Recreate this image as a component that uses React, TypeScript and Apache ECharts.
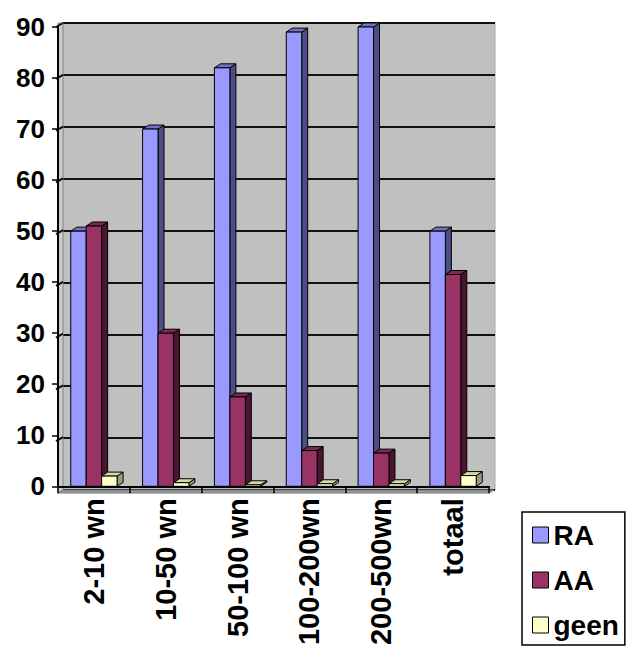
import React, { useEffect, useRef } from "react";
import * as echarts from "echarts";

// Company size classes and the share (%) per answer
const categories = ["2-10 wn", "10-50 wn", "50-100 wn", "100-200wn", "200-500wn", "totaal"];
const seriesNames = ["RA", "AA", "geen"];
const raValues = [50, 70, 82, 89, 90, 50];
const aaValues = [51, 30, 17.5, 7, 6.5, 41.5];
const geenValues = [2, 0.7, 0.3, 0.5, 0.5, 2.1];
const yMin = 0;
const yMax = 90;
const yStep = 10;

// Face colours per series: front, top, side
const faceColors = [
  { front: "#9999FF", top: "#7373C6", side: "#4D4D86" },
  { front: "#993366", top: "#7A2950", side: "#4A1530" },
  { front: "#FFFFCC", top: "#D8D8A6", side: "#9C9C7A" },
];

const W = 632;
const H = 648;
const FONT = '"Liberation Sans", Arial, Helvetica, sans-serif';

// front plane of the plot and depth of the 3D extrusion
const GRID = { left: 58, top: 27, right: 143, bottom: 155 };
const DX = 6;
const DY = 4;
const WALL_DX = 5;
const WALL_DY = 4;

function makeRender(idx: number) {
  const c = faceColors[idx];
  return (params: any, api: any) => {
    const cat = api.value(0);
    const val = api.value(1);
    const base = api.coord([cat, 0]);
    const top = api.coord([cat, val]);
    const band = api.size([1, 0])[0];
    const w = band * 0.215;
    const x0 = base[0] - 1.5 * w + idx * w;
    const x1 = x0 + w;
    const yt = top[1];
    const yb = base[1];
    const stroke = { stroke: "#000", lineWidth: 1 };
    return {
      type: "group",
      children: [
        {
          type: "polygon",
          shape: { points: [[x1, yt], [x1 + DX, yt - DY], [x1 + DX, yb - DY], [x1, yb]] },
          style: { fill: c.side, ...stroke },
        },
        {
          type: "polygon",
          shape: { points: [[x0, yt], [x0 + DX, yt - DY], [x1 + DX, yt - DY], [x1, yt]] },
          style: { fill: c.top, ...stroke },
        },
        {
          type: "rect",
          shape: { x: x0, y: yt, width: w, height: yb - yt },
          style: { fill: c.front, ...stroke },
        },
      ],
    };
  };
}

export default function App() {
  const ref = useRef<HTMLDivElement>(null);

  useEffect(() => {
    if (!ref.current) return;
    const chart = echarts.init(ref.current, null, { renderer: "svg" });

    const fl = GRID.left;
    const ft = GRID.top;
    const fr = W - GRID.right;
    const fb = H - GRID.bottom;
    const plotH = fb - ft;

    // side wall and floor joining the front plane to the back wall
    const wallGraphics: any[] = [
      {
        type: "polygon",
        z: 1,
        shape: { points: [[fl, ft - WALL_DY], [fl + WALL_DX, ft - WALL_DY], [fl + WALL_DX, fb - WALL_DY + 1], [fl, fb]] },
        style: { fill: "#CACACA", stroke: "#8A8A8A", lineWidth: 1 },
      },
      {
        type: "polygon",
        z: 1,
        shape: { points: [[fl, fb], [fl + WALL_DX, fb - WALL_DY + 1], [fr + WALL_DX, fb - WALL_DY + 1], [fr, fb]] },
        style: { fill: "#9A9A9A", stroke: "#7A7A7A", lineWidth: 1 },
      },
    ];
    for (let v = yMin + yStep; v <= yMax; v += yStep) {
      const y = fb - ((v - yMin) / (yMax - yMin)) * plotH;
      wallGraphics.push({
        type: "line",
        z: 1,
        shape: { x1: fl - 2, y1: y, x2: fl + WALL_DX, y2: y - WALL_DY },
        style: { stroke: "#111", lineWidth: 2 },
      });
    }

    const valueSets = [raValues, aaValues, geenValues];

    chart.setOption({
      animation: false,
      backgroundColor: "#FFFFFF",
      textStyle: { fontFamily: FONT },
      grid: [
        { left: GRID.left, top: GRID.top, right: GRID.right, bottom: GRID.bottom, containLabel: false },
        {
          left: GRID.left + WALL_DX,
          top: GRID.top - WALL_DY,
          right: GRID.right - WALL_DX - 1,
          bottom: GRID.bottom + WALL_DY - 1,
          show: true,
          backgroundColor: "#C0C0C0",
          borderColor: "#A8A8A8",
          borderWidth: 1,
          z: 0,
        },
      ],
      xAxis: [
        {
          type: "category",
          gridIndex: 0,
          data: categories,
          boundaryGap: true,
          axisLine: { show: true, lineStyle: { color: "#000", width: 2 } },
          axisTick: { show: true, interval: 0, length: 7, lineStyle: { color: "#000", width: 1.5 } },
          axisLabel: {
            interval: 0,
            rotate: 90,
            margin: 12,
            color: "#000",
            fontSize: 29,
            fontWeight: "bold",
            fontFamily: FONT,
          },
          splitLine: { show: false },
          z: 5,
        },
        {
          type: "category",
          gridIndex: 1,
          data: categories,
          show: false,
        },
      ],
      yAxis: [
        {
          type: "value",
          gridIndex: 0,
          min: yMin,
          max: yMax,
          interval: yStep,
          axisLine: { show: true, lineStyle: { color: "#000", width: 2 } },
          axisTick: { show: true, length: 6, lineStyle: { color: "#000", width: 1.5 } },
          axisLabel: {
            margin: 13,
            color: "#000",
            fontSize: 26,
            fontWeight: "bold",
            fontFamily: FONT,
          },
          splitLine: { show: false },
          z: 5,
        },
        {
          type: "value",
          gridIndex: 1,
          min: yMin,
          max: yMax,
          interval: yStep,
          axisLine: { show: false },
          axisTick: { show: false },
          axisLabel: { show: false },
          splitLine: { show: true, lineStyle: { color: "#111", width: 2 } },
        },
      ],
      legend: {
        orient: "vertical",
        left: 522,
        top: 512,
        padding: [8, 6, 5, 10],
        itemGap: 15,
        itemWidth: 16,
        itemHeight: 16,
        itemTextGap: 11,
        backgroundColor: "#FFFFFF",
        borderColor: "#000",
        borderWidth: 1.5,
        borderRadius: 0,
        icon: "rect",
        textStyle: { color: "#000", fontSize: 28, fontWeight: "bold", fontFamily: FONT, lineHeight: 30 },
        data: seriesNames.map((name, i) => ({
          name,
          icon: "rect",
          itemStyle: { color: faceColors[i].front, borderColor: "#000", borderWidth: 1 },
        })),
      },
      graphic: wallGraphics,
      series: seriesNames.map((name, i) => ({
        type: "custom",
        name,
        xAxisIndex: 0,
        yAxisIndex: 0,
        z: 3,
        itemStyle: { color: faceColors[i].front },
        encode: { x: 0, y: 1 },
        data: valueSets[i].map((v, k) => [k, v]),
        renderItem: makeRender(i),
      })),
    });

    return () => chart.dispose();
  }, []);

  return (
    <div
      ref={ref}
      style={{ position: "fixed", left: 0, top: 0, width: W, height: H, background: "#fff" }}
    />
  );
}
